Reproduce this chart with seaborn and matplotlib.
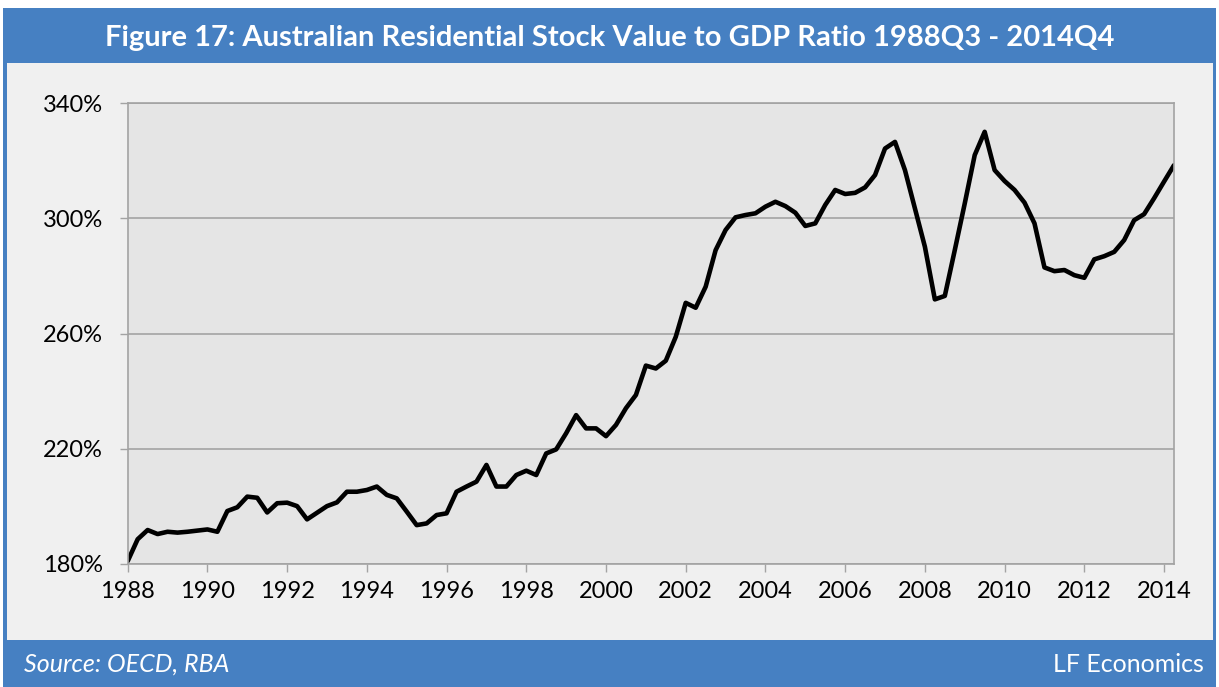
import numpy as np
import pandas as pd
import matplotlib
matplotlib.use("Agg")
import matplotlib.pyplot as plt
from matplotlib.patches import Rectangle
import seaborn as sns

# Quarterly data 1988Q3 .. 2014Q4 (106 quarters), ratio in %
ratio = [
    181.0, 188.6, 191.8, 190.4, 191.2, 190.9, 191.2, 191.6, 192.0, 191.2,
    198.4, 199.7, 203.4, 203.0, 197.9, 201.1, 201.3, 200.1, 195.5, 197.8,
    200.1, 201.4, 205.1, 205.1, 205.7, 206.9, 204.0, 202.8, 198.2, 193.5,
    194.1, 197.0, 197.6, 205.1, 206.9, 208.6, 214.4, 206.9, 206.9, 210.9,
    212.4, 210.9, 218.4, 219.8, 225.4, 231.7, 227.1, 227.1, 224.4, 228.3,
    234.1, 238.7, 248.9, 247.9, 250.6, 258.9, 270.7, 269.0, 276.3, 289.0,
    296.0, 300.4, 301.2, 301.8, 304.1, 305.8, 304.3, 302.0, 297.4, 298.3,
    304.7, 309.9, 308.5, 308.9, 310.8, 315.1, 324.3, 326.6, 316.8, 303.5,
    290.2, 271.9, 273.1, 289.0, 305.2, 322.0, 330.1, 316.8, 313.0, 309.9,
    305.5, 298.3, 283.0, 281.7, 282.1, 280.3, 279.4, 285.8, 286.9, 288.4,
    292.5, 299.4, 301.5, 307.0, 312.8, 318.5,
]
quarter_index = list(range(len(ratio)))
year_labels = [str(y) for y in range(1988, 2015, 2)]
year_tick_index = [8 * k for k in range(len(year_labels))]
y_ticks = [180, 220, 260, 300, 340]
y_tick_labels = ["180%", "220%", "260%", "300%", "340%"]

title = "Figure 17: Australian Residential Stock Value to GDP Ratio 1988Q3 - 2014Q4"
source = "Source: OECD, RBA"
brand = "LF Economics"

df = pd.DataFrame({"q": quarter_index, "ratio": ratio})

sns.set_theme(style="white")
plt.rcParams["font.family"] = ["Lato", "DejaVu Sans"]

W, H = 1219, 687
fig = plt.figure(figsize=(W / 100, H / 100), dpi=100)
fig.patch.set_facecolor("white")

blue = "#4680C2"
panel = "#F0F0F0"

def fx(px):
    return px / W

def fy(py):
    return 1 - py / H

# outer blue frame
fig.patches.append(Rectangle((fx(3), fy(687)), fx(1216) - fx(3), fy(8) - fy(687),
                             transform=fig.transFigure, facecolor=blue, edgecolor="none", zorder=-10))
# inner light panel
fig.patches.append(Rectangle((fx(7), fy(640)), fx(1213) - fx(7), fy(63) - fy(640),
                             transform=fig.transFigure, facecolor=panel, edgecolor="none", zorder=-9))

ax = fig.add_axes([fx(127.7), fy(564), fx(1174) - fx(127.7), fy(103.3) - fy(564)])
ax.set_zorder(5)
ax.set_facecolor("#E5E5E5")

sns.lineplot(data=df, x="q", y="ratio", ax=ax, color="black", linewidth=3.3)

ax.set_xlim(0, len(ratio) - 1)
ax.set_ylim(180, 340)
ax.set_yticks(y_ticks)
ax.set_yticklabels(y_tick_labels)
ax.set_xticks(year_tick_index)
ax.set_xticklabels(year_labels)
ax.set_xlabel("")
ax.set_ylabel("")

grid_c = "#A3A3A3"
ax.yaxis.grid(True, color=grid_c, linewidth=1.2)
ax.xaxis.grid(False)
ax.set_axisbelow(True)
for s in ax.spines.values():
    s.set_visible(True)
    s.set_color(grid_c)
    s.set_linewidth(1.2)

ax.tick_params(axis="y", which="major", direction="out", length=6, width=1, color=grid_c,
               pad=12, labelsize=17, labelcolor="black", left=True)
ax.tick_params(axis="x", which="major", direction="out", length=6, width=1, color=grid_c,
               pad=6, labelsize=17, labelcolor="black", bottom=True)

fig.text(0.5, fy(38), title, ha="center", va="center", color="white",
         fontsize=21, fontweight="bold", zorder=10)
fig.text(fx(24), fy(664), source, ha="left", va="center", color="white",
         fontsize=18, style="italic", zorder=10)
fig.text(fx(1204), fy(664), brand, ha="right", va="center", color="white",
         fontsize=18, zorder=10)

fig.savefig("out.png", dpi=100, facecolor=fig.get_facecolor())
